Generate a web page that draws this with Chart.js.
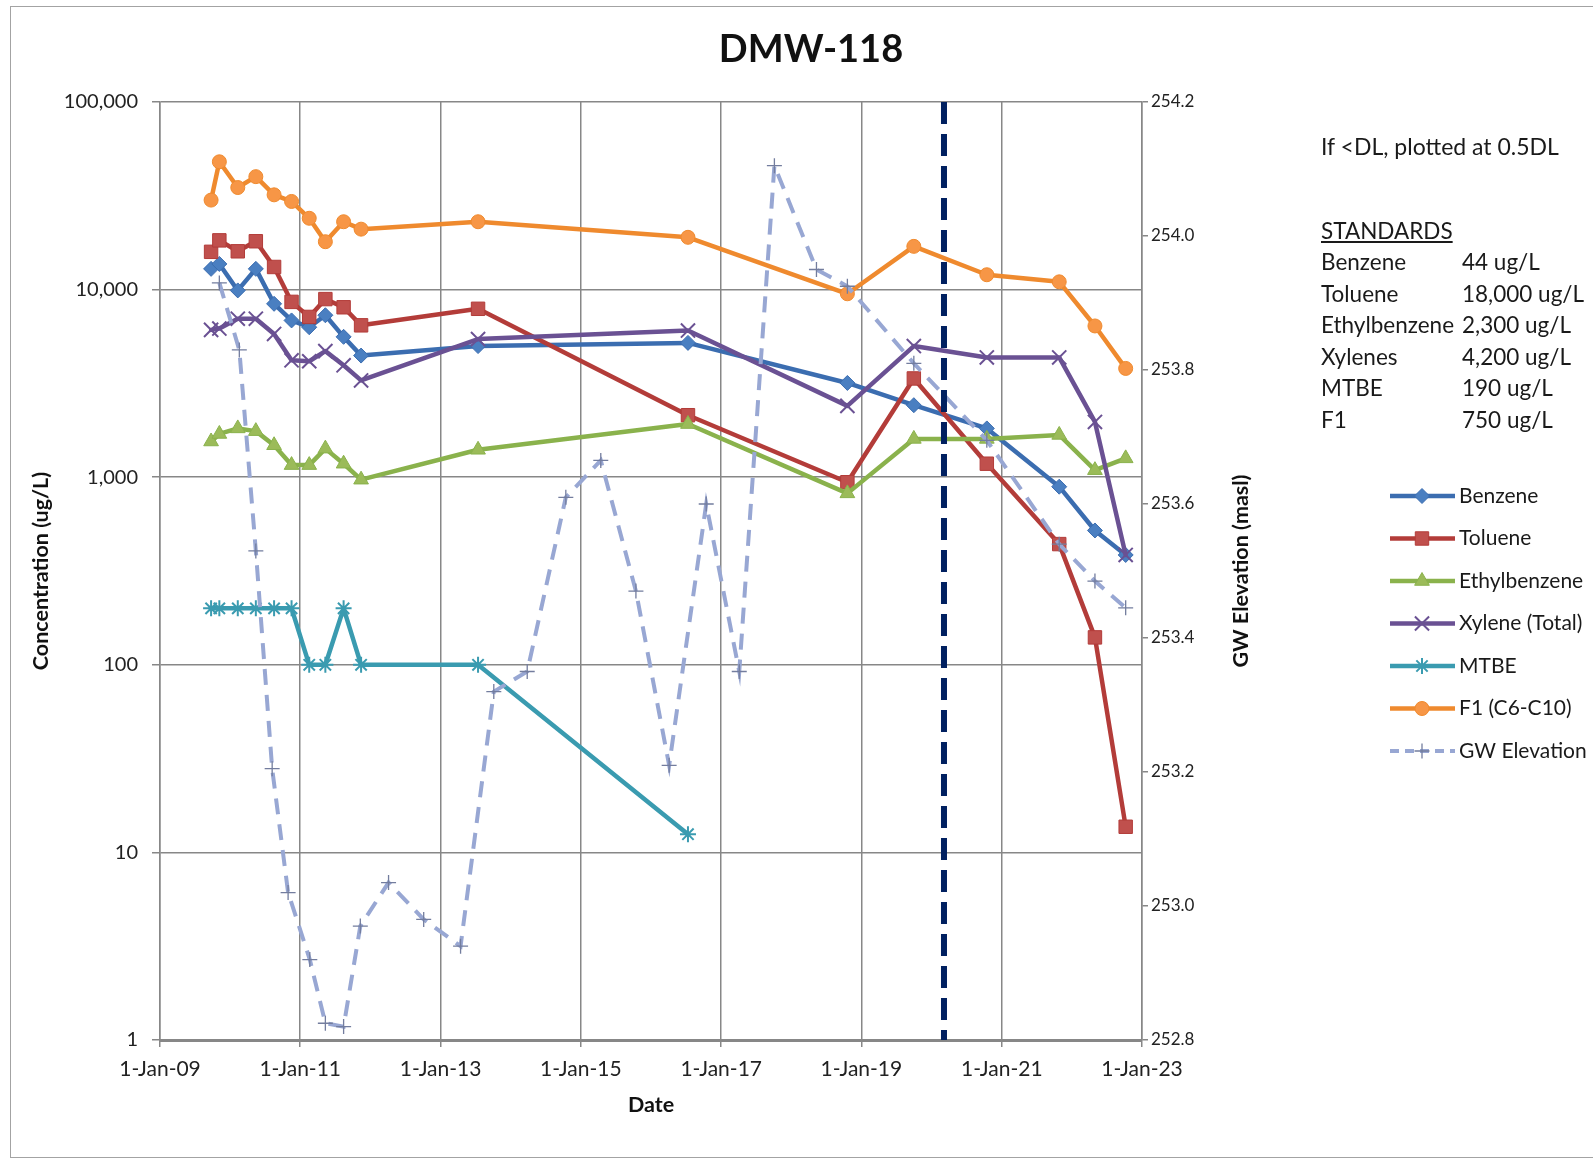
<!DOCTYPE html>
<html>
<head>
<meta charset="utf-8">
<title>DMW-118</title>
<script src="https://cdn.jsdelivr.net/npm/chart.js"></script>
<style>
    html, body { margin: 0; padding: 0; background: #fff; }
    body { width: 1593px; height: 1164px; overflow: hidden; position: relative; font-family: Lato, "Open Sans", sans-serif; }
    #frame { position: absolute; left: 10px; top: 6px; width: 1640px; height: 1152px; border: 1.5px solid #a3a3a3; box-sizing: border-box; }
    #chart { position: absolute; left: 0; top: 0; }
    .note { position: absolute; height: 30px; line-height: 30px; font-size: 22.5px; color: #1a1a1a; white-space: nowrap; }
</style>
</head>
<body>
<div id="frame"></div>
<canvas id="chart" width="1593" height="1164"></canvas>
<div id="notes"></div>
<script>
// Sampling dates for the concentration series
const sampleDates = [
    "2009-09-24", "2009-11-06", "2010-02-10", "2010-05-15", "2010-08-18", "2010-11-17",
    "2011-02-17", "2011-05-12", "2011-08-15", "2011-11-14", "2013-07-15", "2016-07-12",
    "2018-10-20", "2019-10-01", "2020-10-15", "2021-10-27", "2022-05-01", "2022-10-08"
];

// Concentrations (ug/L)
const benzene = [12900, 13700, 9900, 12900, 8400, 6850, 6300, 7300, 5600, 4450, 5000, 5200, 3180, 2420, 1820, 890, 520, 385];
const toluene = [15900, 18300, 16000, 18100, 13200, 8600, 7150, 8900, 8050, 6450, 7900, 2140, 940, 3360, 1180, 440, 140, 13.7];
const ethylbenzene = [1550, 1700, 1820, 1760, 1480, 1160, 1160, 1420, 1180, 970, 1400, 1920, 820, 1600, 1600, 1680, 1090, 1260];
const xylenes = [6100, 6200, 7000, 7000, 5800, 4200, 4150, 4700, 3950, 3280, 5450, 6050, 2400, 5000, 4350, 4350, 1970, 385];
const mtbe = [200, 200, 200, 200, 200, 200, 100, 100, 200, 100, 100, 12.5, null, null, null, null, null, null];
const f1 = [30000, 48000, 35000, 40000, 32000, 29500, 24000, 18000, 23000, 21000, 23000, 19000, 9500, 17000, 12000, 11000, 6400, 3800];

// Groundwater elevation (masl), right axis
const gwDates = [
    "2009-11-06", "2010-02-18", "2010-05-15", "2010-08-08", "2010-10-30", "2011-02-20",
    "2011-05-12", "2011-08-15", "2011-11-10", "2012-04-05", "2012-10-05", "2013-04-15",
    "2013-10-05", "2014-03-28", "2014-10-15", "2015-04-15", "2015-10-15", "2016-04-05",
    "2016-10-15", "2017-04-05", "2017-10-05", "2018-05-12", "2018-10-20", "2019-10-01",
    "2020-10-15", "2021-10-27", "2022-05-01", "2022-10-08"
];
const gwElevation = [
    253.93, 253.83, 253.53, 253.205, 253.02, 252.92,
    252.825, 252.82, 252.97, 253.035, 252.98, 252.94,
    253.32, 253.35, 253.61, 253.665, 253.47, 253.21,
    253.60, 253.35, 254.105, 253.95, 253.925, 253.81,
    253.695, 253.54, 253.485, 253.445
];

// Vertical marker date
const dividerDate = "2020-03-06";

// Axis ticks
const xTickYears = [2009, 2011, 2013, 2015, 2017, 2019, 2021, 2023];
const concTicks = [1, 10, 100, 1000, 10000, 100000];
const gwTicks = [252.8, 253.0, 253.2, 253.4, 253.6, 253.8, 254.0, 254.2];

// Standards text box
const standardNames = ["Benzene", "Toluene", "Ethylbenzene", "Xylenes", "MTBE", "F1"];
const standardValues = ["44 ug/L", "18,000 ug/L", "2,300 ug/L", "4,200 ug/L", "190 ug/L", "750 ug/L"];

const FONT = "Lato, 'Open Sans', sans-serif";
const GRID = "#878787";

function toTime(d) {
    return Date.parse(d + "T00:00:00Z");
}

function points(dates, values) {
    return dates
        .map((d, i) => ({ x: toTime(d), y: values[i] }))
        .filter(p => p.y !== null);
}

// Build the notes box
const notes = document.getElementById("notes");
function addNote(text, left, centerY, extra) {
    const el = document.createElement("div");
    el.className = "note";
    el.textContent = text;
    el.style.left = left + "px";
    el.style.top = (centerY - 15) + "px";
    if (extra) Object.assign(el.style, extra);
    notes.appendChild(el);
}
addNote("If <DL, plotted at 0.5DL", 1321, 146, { fontSize: "23px" });
addNote("STANDARDS", 1321, 231, { textDecoration: "underline" });
standardNames.forEach((name, i) => {
    addNote(name, 1321, 262 + i * 31.5);
    addNote(standardValues[i], 1462, 262 + i * 31.5);
});

function series(label, values, color, markColor, style, radius, order, extra) {
    return Object.assign({
        label: label,
        data: points(sampleDates, values),
        yAxisID: "y",
        borderColor: color,
        backgroundColor: markColor,
        pointBackgroundColor: markColor,
        pointBorderColor: color,
        pointBorderWidth: 1,
        pointStyle: style,
        pointRadius: radius,
        pointHoverRadius: radius,
        borderWidth: 4.5,
        borderJoinStyle: "round",
        borderCapStyle: "round",
        tension: 0,
        order: order
    }, extra || {});
}

const datasets = [
    series("Benzene", benzene, "#3b6db0", "#4a7fc1", "rectRot", 7.5, 7),
    series("Toluene", toluene, "#b33c39", "#c0504d", "rect", 9.5, 6),
    series("Ethylbenzene", ethylbenzene, "#8ab24c", "#9bbb59", "triangle", 8.5, 5),
    series("Xylene (Total)", xylenes, "#6a5193", "#7a62a0", "crossRot", 10, 4, { pointBorderWidth: 2 }),
    series("MTBE", mtbe, "#3a9bb0", "#4bacc6", "star", 8, 3, { pointBorderWidth: 2 }),
    series("F1 (C6-C10)", f1, "#ef8a2e", "#f79646", "circle", 7, 2),
    {
        label: "GW Elevation",
        data: points(gwDates, gwElevation),
        yAxisID: "y2",
        borderColor: "#98a7d3",
        backgroundColor: "#98a7d3",
        pointBackgroundColor: "#98a7d3",
        pointBorderColor: "#737d9e",
        pointBorderWidth: 1.3,
        pointStyle: "cross",
        pointRadius: 7.5,
        pointHoverRadius: 7.5,
        borderWidth: 4,
        borderDash: [16, 10],
        tension: 0,
        order: 1
    },
    {
        label: "divider",
        data: [{ x: toTime(dividerDate), y: 100000 }, { x: toTime(dividerDate), y: 1 }],
        yAxisID: "y",
        borderColor: "#002060",
        borderWidth: 6,
        borderDash: [22, 10],
        pointRadius: 0,
        pointHoverRadius: 0,
        order: 0
    }
];

// Title, right axis title and the side legend
const decorPlugin = {
    id: "decor",
    afterDraw(chart) {
        const ctx = chart.ctx;
        const area = chart.chartArea;
        ctx.save();
        ctx.fillStyle = "#111";
        ctx.textAlign = "center";
        ctx.textBaseline = "middle";
        ctx.font = "bold 38px " + FONT;
        ctx.fillText("DMW-118", 811, 50);

        ctx.save();
        ctx.translate(1241, (area.top + area.bottom) / 2);
        ctx.rotate(-Math.PI / 2);
        ctx.font = "bold 21.5px " + FONT;
        ctx.fillText("GW Elevation (masl)", 0, 0);
        ctx.restore();

        // legend
        let y = 496;
        chart.data.datasets.forEach(ds => {
            if (ds.label === "divider") return;
            ctx.save();
            ctx.strokeStyle = ds.borderColor;
            ctx.lineWidth = ds.borderWidth;
            ctx.setLineDash(ds.borderDash ? [9, 6] : []);
            ctx.beginPath();
            ctx.moveTo(1390, y);
            ctx.lineTo(1455, y);
            ctx.stroke();
            ctx.setLineDash([]);
            ctx.fillStyle = ds.pointBackgroundColor;
            ctx.strokeStyle = ds.pointBorderColor;
            ctx.lineWidth = ds.pointBorderWidth;
            Chart.helpers.drawPoint(ctx, {
                pointStyle: ds.pointStyle,
                radius: ds.pointRadius,
                rotation: 0,
                borderWidth: ds.pointBorderWidth
            }, 1422, y);
            ctx.restore();
            ctx.fillStyle = "#1a1a1a";
            ctx.textAlign = "left";
            ctx.font = "21px " + FONT;
            ctx.fillText(ds.label, 1459, y);
            y += 42.5;
        });
        ctx.restore();
    }
};

Chart.defaults.font.family = FONT;

new Chart(document.getElementById("chart").getContext("2d"), {
    type: "line",
    data: { datasets: datasets },
    plugins: [decorPlugin],
    options: {
        responsive: false,
        animation: false,
        devicePixelRatio: 1,
        layout: { padding: { top: 102, left: 0, right: 341, bottom: 34 } },
        plugins: {
            legend: { display: false },
            title: { display: false },
            tooltip: { enabled: false }
        },
        scales: {
            x: {
                type: "linear",
                min: toTime("2009-01-01"),
                max: toTime("2023-01-01"),
                afterBuildTicks: s => { s.ticks = xTickYears.map(y => ({ value: Date.UTC(y, 0, 1) })); },
                afterFit: s => { s.height = 90; },
                ticks: {
                    callback: v => "1-Jan-" + String(new Date(v).getUTCFullYear()).slice(2),
                    font: { size: 21 },
                    color: "#222",
                    padding: 10,
                    maxRotation: 0,
                    autoSkip: false
                },
                grid: { color: GRID, lineWidth: 1.5, tickLength: 7 },
                border: { color: GRID, width: 3 },
                title: {
                    display: true,
                    text: "Date",
                    color: "#111",
                    font: { size: 21.5, weight: "bold" },
                    padding: { top: 0, bottom: 12 }
                }
            },
            y: {
                type: "logarithmic",
                position: "left",
                min: 1,
                max: 100000,
                afterBuildTicks: s => { s.ticks = concTicks.map(v => ({ value: v })); },
                afterFit: s => { s.width = 160; },
                ticks: {
                    callback: v => Number(v).toLocaleString("en-US"),
                    font: { size: 20 },
                    color: "#222",
                    padding: 14
                },
                grid: { color: GRID, lineWidth: 1.5, tickLength: 8 },
                border: { color: GRID, width: 1.5 },
                title: {
                    display: true,
                    text: "Concentration (ug/L)",
                    color: "#111",
                    font: { size: 21.5, weight: "bold" },
                    padding: { top: 28, bottom: 0 }
                }
            },
            y2: {
                type: "linear",
                position: "right",
                min: 252.8,
                max: 254.2,
                afterBuildTicks: s => { s.ticks = gwTicks.map(v => ({ value: v })); },
                afterFit: s => { s.width = 110; },
                ticks: {
                    callback: v => Number(v).toFixed(1),
                    font: { size: 17 },
                    color: "#222",
                    padding: 3
                },
                grid: { drawOnChartArea: false, color: GRID, lineWidth: 1.5, tickLength: 6 },
                border: { color: GRID, width: 1.5 }
            }
        }
    }
});
</script>
</body>
</html>
